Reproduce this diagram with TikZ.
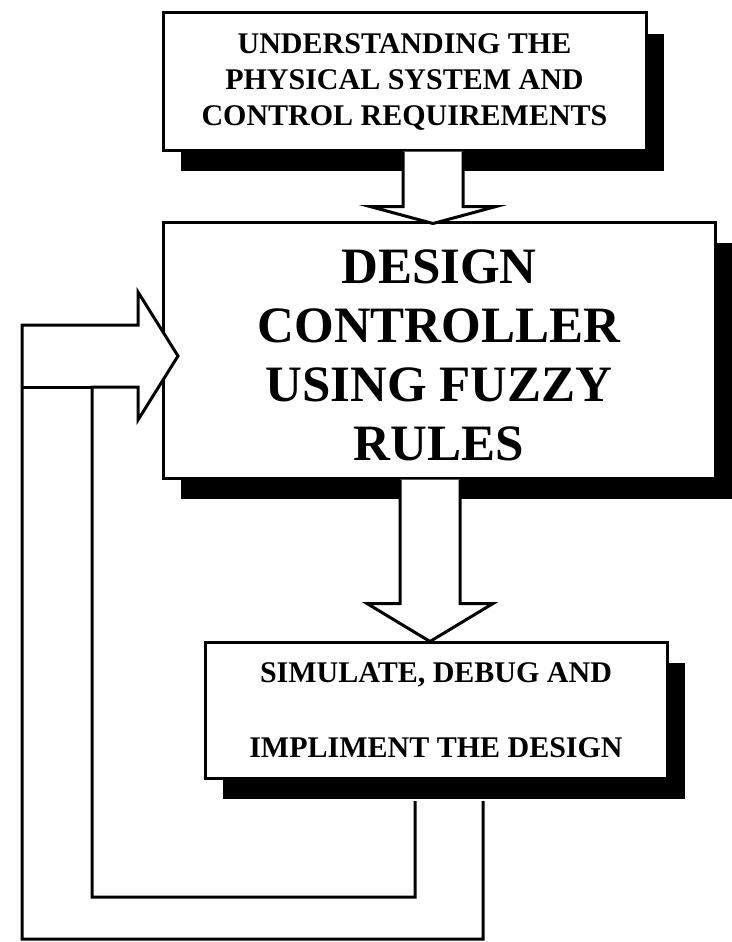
\documentclass[tikz,border=0pt]{standalone}
\usepackage{fontspec}
\setmainfont{Liberation Serif}
\usetikzlibrary{shadows}
\tikzset{
  box/.style={draw, fill=white, line width=3pt, inner sep=0pt, align=center,
    drop shadow={shadow xshift=18pt, shadow yshift=-21pt, fill=black, opacity=1}},
  hollow/.style={line width=3pt, line join=miter},
  blank/.style={fill=white}
}
\begin{document}
\begin{tikzpicture}[x=1pt,y=-1pt]
\useasboundingbox (0,0) rectangle (731,942);

% boxes
\node[box, minimum width=483pt, minimum height=137pt,
      font=\bfseries\fontsize{30}{36}\selectfont] (under) at (404.5,81.5)
  {UNDERSTANDING THE\\PHYSICAL SYSTEM AND\\CONTROL REQUIREMENTS};
\node[box, minimum width=552pt, minimum height=256pt,
      font=\bfseries\fontsize{51}{59}\selectfont] (design) at (439,350)
  {DESIGN\rule{0pt}{44pt}\\CONTROLLER\\USING FUZZY\\RULES};
\node[box, minimum width=462pt, minimum height=136pt,
      font=\bfseries\fontsize{30}{75}\selectfont] (sim) at (436,710)
  {SIMULATE, DEBUG AND\\IMPLIMENT THE DESIGN};

% arrow 1: under -> design
\coordinate (a1) at ([xshift=28.5pt]under.south);
\fill[blank] (a1) ++(-30,0) -- ++(0,55) -- ++(-33,0) -- ++(63,17) -- ++(63,-17) -- ++(-33,0) -- ++(0,-55) -- cycle;
\draw[hollow] (a1) ++(-30,0) -- ++(0,55) -- ++(-33,0) -- ++(63,17) -- ++(63,-17) -- ++(-33,0) -- ++(0,-55);

% arrow 2: design -> sim
\coordinate (a2) at ([xshift=-9pt]design.south);
\fill[blank] (a2) ++(-30,0) -- ++(0,124) -- ++(-33,0) -- ++(63,38) -- ++(63,-38) -- ++(-33,0) -- ++(0,-124) -- cycle;
\draw[hollow] (a2) ++(-30,0) -- ++(0,124) -- ++(-33,0) -- ++(63,38) -- ++(63,-38) -- ++(-33,0) -- ++(0,-124);

% feedback arrow: sim -> design
\coordinate (f1) at (415,801);
\coordinate (f2) at (483,801);
\coordinate (tip) at (178,356);
\fill[blank] (f2) -- (483,939) -- (22,939) -- (22,325) -- (138,325) -- (138,292) -- (tip)
  -- (138,420) -- (138,387) -- (92,387) -- (92,897) -- (415,897) -- (f1) -- cycle;
\draw[hollow] (f2) -- (483,939) -- (22,939) -- (22,325) -- (138,325) -- (138,292) -- (tip)
  -- (138,420) -- (138,387) -- (92,387) -- (92,897) -- (415,897) -- (f1);
\draw[hollow] (22,387) -- (92,387);
\end{tikzpicture}
\end{document}
